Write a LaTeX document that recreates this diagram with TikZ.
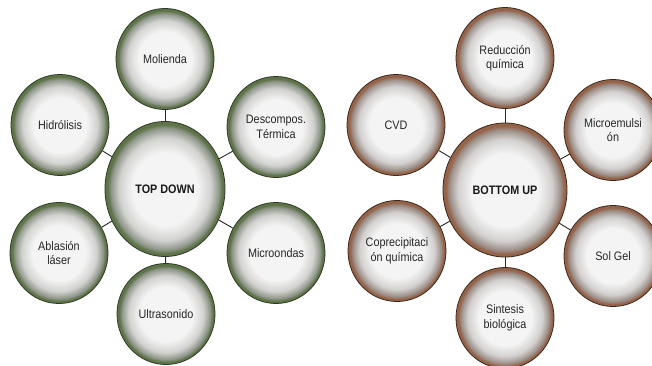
\documentclass[tikz,border=0pt]{standalone}
\usepackage{fontspec}
\setmainfont[FakeStretch=0.88]{Liberation Sans}
\usetikzlibrary{shapes.geometric}
\definecolor{gring}{HTML}{5F7349}
\definecolor{gline}{HTML}{2E3A26}
\definecolor{bring}{HTML}{956349}
\definecolor{bline}{HTML}{3A281C}
\definecolor{core}{HTML}{F4F4F4}
\definecolor{gmid}{HTML}{D2D3D0}
\definecolor{gdark}{HTML}{8F968A}
\definecolor{bmid}{HTML}{D3D1D0}
\definecolor{bdark}{HTML}{9C8F88}
\pgfdeclareradialshading{gball}{\pgfpoint{0bp}{0bp}}{color(0bp)=(core); color(13.5bp)=(core); color(19bp)=(gmid); color(22.5bp)=(gdark); color(23.9bp)=(gring); color(25bp)=(gring); color(50bp)=(gring)}
\pgfdeclareradialshading{bball}{\pgfpoint{0bp}{0bp}}{color(0bp)=(core); color(13.5bp)=(core); color(19bp)=(bmid); color(22.5bp)=(bdark); color(23.9bp)=(bring); color(25bp)=(bring); color(50bp)=(bring)}
\tikzset{
  sat/.style={ellipse, minimum width=98pt, minimum height=101pt, inner sep=0pt, align=center,
    font=\fontsize{12.3}{14.5}\selectfont, text=black!85},
  hub/.style={ellipse, inner sep=0pt, align=center, font=\fontsize{12.3}{14.5}\selectfont\bfseries, text=black!90},
  gstyle/.style={shading=gball, draw=gline, line width=0.8pt},
  bstyle/.style={shading=bball, draw=bline, line width=0.8pt},
  link/.style={draw=black!85, line width=0.9pt}
}
\begin{document}
\begin{tikzpicture}[x=1pt,y=-1pt]
\useasboundingbox (0,0) rectangle (652,366);
\clip (0,0) rectangle (652,366);
% TOP DOWN
\node[hub, gstyle, minimum width=120pt, minimum height=135pt] (td) at (165,189) {TOP DOWN};
\node[sat, gstyle] (mol) at (165,59) {Molienda};
\node[sat, gstyle] (hid) at (60,125) {Hidrólisis};
\node[sat, gstyle] (des) at (276,127) {Descompos.\\Térmica};
\node[sat, gstyle] (abl) at (59,253) {Ablasión\\láser};
\node[sat, gstyle] (mic) at (276,253) {Microondas};
\node[sat, gstyle] (ult) at (166,314) {Ultrasonido};
\foreach \n in {mol,hid,des,abl,mic,ult} \draw[link] (td) -- (\n);
% BOTTOM UP
\node[hub, bstyle, minimum width=124pt, minimum height=134pt] (bu) at (505,190) {BOTTOM UP};
\node[sat, bstyle] (red) at (505,58) {Reducción\\química};
\node[sat, bstyle] (cvd) at (396,125) {CVD};
\node[sat, bstyle] (mem) at (613,130) {Microemulsi\\ón};
\node[sat, bstyle] (cop) at (397,251) {Coprecipitaci\\ón química};
\node[sat, bstyle] (sol) at (613,256) {Sol Gel};
\node[sat, bstyle] (sin) at (505,318) {Sintesis\\biológica};
\foreach \n in {red,cvd,mem,cop,sol,sin} \draw[link] (bu) -- (\n);
\end{tikzpicture}
\end{document}
